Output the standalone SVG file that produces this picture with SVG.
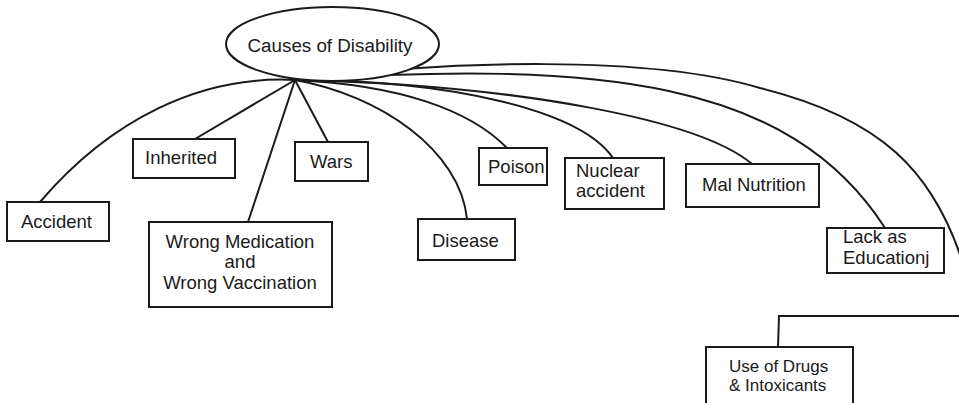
<svg xmlns="http://www.w3.org/2000/svg" width="959" height="403" viewBox="0 0 959 403">
<style>
.box{fill:#fff;stroke:#1a1a1a;stroke-width:2}
.ln{fill:none;stroke:#1a1a1a;stroke-width:2}
text{font-family:"Liberation Sans",Arial,sans-serif;font-size:18.5px;fill:#1a1a1a}
.c{text-anchor:middle}
.s{font-size:17px}
</style>
<rect width="959" height="403" fill="#fff"/>
<g id="connectors">
<path class="ln" d="M40,202 C110,120 200,75 295,80"/>
<path class="ln" d="M195,139 L295,80"/>
<path class="ln" d="M328,142 L295,80"/>
<path class="ln" d="M248,222 L295,80"/>
<path class="ln" d="M295,80 C380,95 460,150 467,219"/>
<path class="ln" d="M295,80 C400,85 470,110 507,148"/>
<path class="ln" d="M295,80 C450,80 580,110 613,158"/>
<path class="ln" d="M295,80 C520,85 700,120 752,164"/>
<path class="ln" d="M295,80 C600,60 790,80 885,228"/>
<path class="ln" d="M295,80 C450,60 650,55 760,88 C880,118 935,170 965,270"/>
<path class="ln" d="M778,347 L779,316 L960,316"/>
</g>
<g id="root">
<ellipse class="box" cx="332.5" cy="44" rx="106.5" ry="37"/>
<text class="c" x="330" y="52" style="font-size:18.8px">Causes of Disability</text>
</g>
<g id="accident">
<rect class="box" x="7" y="202" width="102" height="39"/>
<text x="21" y="228">Accident</text>
</g>
<g id="inherited">
<rect class="box" x="133" y="139" width="102" height="39"/>
<text x="145" y="164">Inherited</text>
</g>
<g id="wars">
<rect class="box" x="295" y="142" width="73" height="39"/>
<text x="310" y="168">Wars</text>
</g>
<g id="wrong-medication">
<rect class="box" x="149" y="222" width="183" height="85"/>
<text class="c" x="240" y="248">Wrong Medication</text>
<text class="c" x="240" y="268">and</text>
<text class="c" x="240" y="289">Wrong Vaccination</text>
</g>
<g id="disease">
<rect class="box" x="418" y="219" width="97" height="41"/>
<text x="432" y="247">Disease</text>
</g>
<g id="poison">
<rect class="box" x="479" y="148" width="68" height="37"/>
<text x="488" y="173">Poison</text>
</g>
<g id="nuclear">
<rect class="box" x="565" y="158" width="99" height="51"/>
<text x="576" y="177">Nuclear</text>
<text x="576" y="197">accident</text>
</g>
<g id="malnutrition">
<rect class="box" x="686" y="164" width="133" height="43"/>
<text x="702" y="191">Mal Nutrition</text>
</g>
<g id="education">
<rect class="box" x="827" y="228" width="117" height="45"/>
<text x="843" y="243">Lack as</text>
<text x="843" y="264">Educationj</text>
</g>
<g id="drugs">
<rect class="box" x="706" y="347" width="147" height="70"/>
<text class="s" x="729" y="372">Use of Drugs</text>
<text class="s" x="729" y="391">&amp; Intoxicants</text>
</g>
</svg>
